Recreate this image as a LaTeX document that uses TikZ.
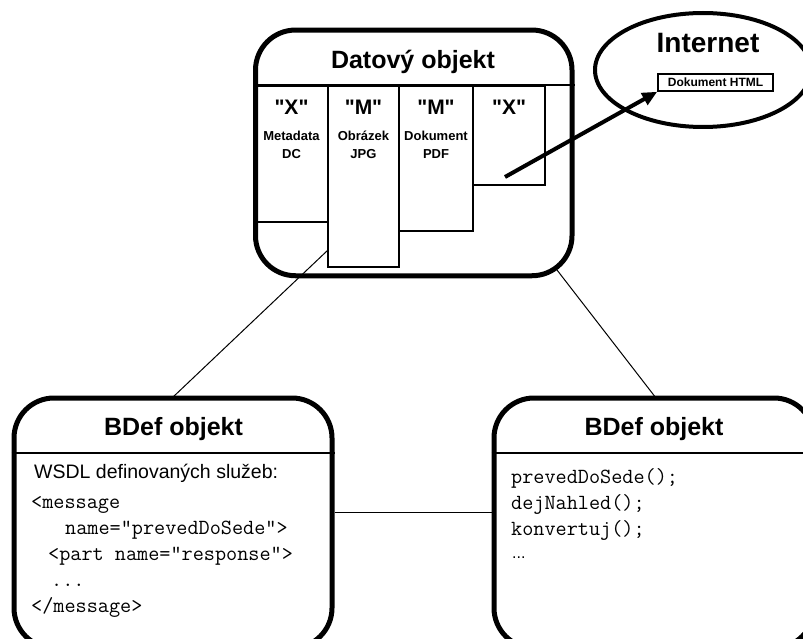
\documentclass[tikz,border=0pt]{standalone}
\usepackage{fontspec}
\setmainfont{Liberation Sans}
\usetikzlibrary{shapes.geometric,arrows.meta}
\newcommand{\dq}[1]{\textquotedbl#1\textquotedbl}
\begin{document}
\begin{tikzpicture}[x=1pt,y=-1pt,
  frame/.style={draw, line width=5pt, rounded corners=40pt, inner sep=0pt},
  part/.style={draw, line width=1.5pt, inner sep=0pt},
  link/.style={line width=1pt},
  bigtitle/.style={font=\fontsize{25}{30}\selectfont\bfseries, anchor=base, inner sep=0pt},
  kind/.style={font=\fontsize{21}{25}\selectfont\bfseries, anchor=base, inner sep=0pt},
  small/.style={font=\fontsize{13}{15}\selectfont\bfseries, anchor=base, inner sep=0pt},
  plain/.style={font=\fontsize{19.5}{23}\selectfont, anchor=base west, inner sep=0pt},
  code/.style={font=\ttfamily\fontsize{21.6}{25}\selectfont, anchor=base west, inner sep=0pt},
]
\useasboundingbox (0,0) rectangle (803,639);
\clip (0,0) rectangle (803,639);

% data object with its four datastreams
\node[frame, minimum width=316.5pt, minimum height=245.7pt] (dobj) at (413.75,152.9) {};
\node[bigtitle] (dtitle) at (413,69) {Datový objekt};
\node[part, minimum width=73pt, minimum height=136pt] (col1) at (291.5,154) {};
\node[part, minimum width=71pt, minimum height=181pt] (col2) at (363.5,176.5) {};
\node[part, minimum width=74pt, minimum height=145pt] (col3) at (436,158.5) {};
\node[part, minimum width=72pt, minimum height=99pt] (col4) at (509,135.5) {};
\draw[line width=1.5pt] (dobj.west |- col1.north) -- (dobj.east |- col1.north);

\node[kind] (k1) at (291.5,115) {\dq{X}};
\node[kind] (k2) at (363.5,115) {\dq{M}};
\node[kind] (k3) at (436,115) {\dq{M}};
\node[kind] (k4) at (509,115) {\dq{X}};
\node[small] (l1a) at (291.5,141) {Metadata};
\node[small] (l1b) at (291.5,159) {DC};
\node[small] (l2a) at (363.5,141) {Obrázek};
\node[small] (l2b) at (363.5,159) {JPG};
\node[small] (l3a) at (436,141) {Dokument};
\node[small] (l3b) at (436,159) {PDF};

% internet cloud
\node[ellipse, draw, line width=4pt, inner sep=0pt, minimum width=216pt, minimum height=114pt] (net) at (703,70) {};
\node[font=\fontsize{28}{32}\selectfont\bfseries, anchor=base, inner sep=0pt] (ntitle) at (708,53) {Internet};
\node[part, minimum width=115pt, minimum height=17pt, font=\fontsize{12}{14}\selectfont\bfseries] (html) at (715.5,82.5) {Dokument HTML};

% reference from the last datastream to the external document
\coordinate (src) at (505,177);
\draw[line width=4pt, -{Triangle[length=15pt,width=13pt]}] (src) -- (html.south west);

% left behaviour definition
\node[frame, minimum width=318pt, minimum height=250pt] (bl) at (173,523) {};
\node[bigtitle] (bltitle) at (173.5,435) {BDef objekt};
\draw[line width=1.5pt] (bl.west |- 0,453) -- (bl.east |- 0,453);
\node[plain] (w0) at (34,478) {WSDL definovaných služeb:};
\node[code] (w1) at (31,508) {<message};
\node[code] (w2) at (65,534) {name="prevedDoSede">};
\node[code] (w3) at (48,560) {<part name="response">};
\node[code] (w4) at (51,586) {...};
\node[code] (w5) at (31,612) {</message>};

% right behaviour definition
\node[frame, minimum width=320pt, minimum height=250pt] (br) at (654,523) {};
\node[bigtitle] (brtitle) at (654,435) {BDef objekt};
\draw[line width=1.5pt] (br.west |- 0,453) -- (br.east |- 0,453);
\node[code] (m1) at (511,483) {prevedDoSede();};
\node[code] (m2) at (511,509) {dejNahled();};
\node[code] (m3) at (511,535) {konvertuj();};
\node[font=\fontsize{16}{19}\selectfont, anchor=base west, inner sep=0pt] (m4) at (512,558) {...};

% relations between the objects
\coordinate (dl) at (328,250);
\coordinate (dr) at (557,270);
\coordinate (bltop) at (172,398);
\coordinate (brtop) at (656,398);
\draw[link] (dl) -- (bltop);
\draw[link] (dr) -- (brtop);
\draw[link] (bl.east |- 0,512) -- (br.west |- 0,512);
\end{tikzpicture}
\end{document}
